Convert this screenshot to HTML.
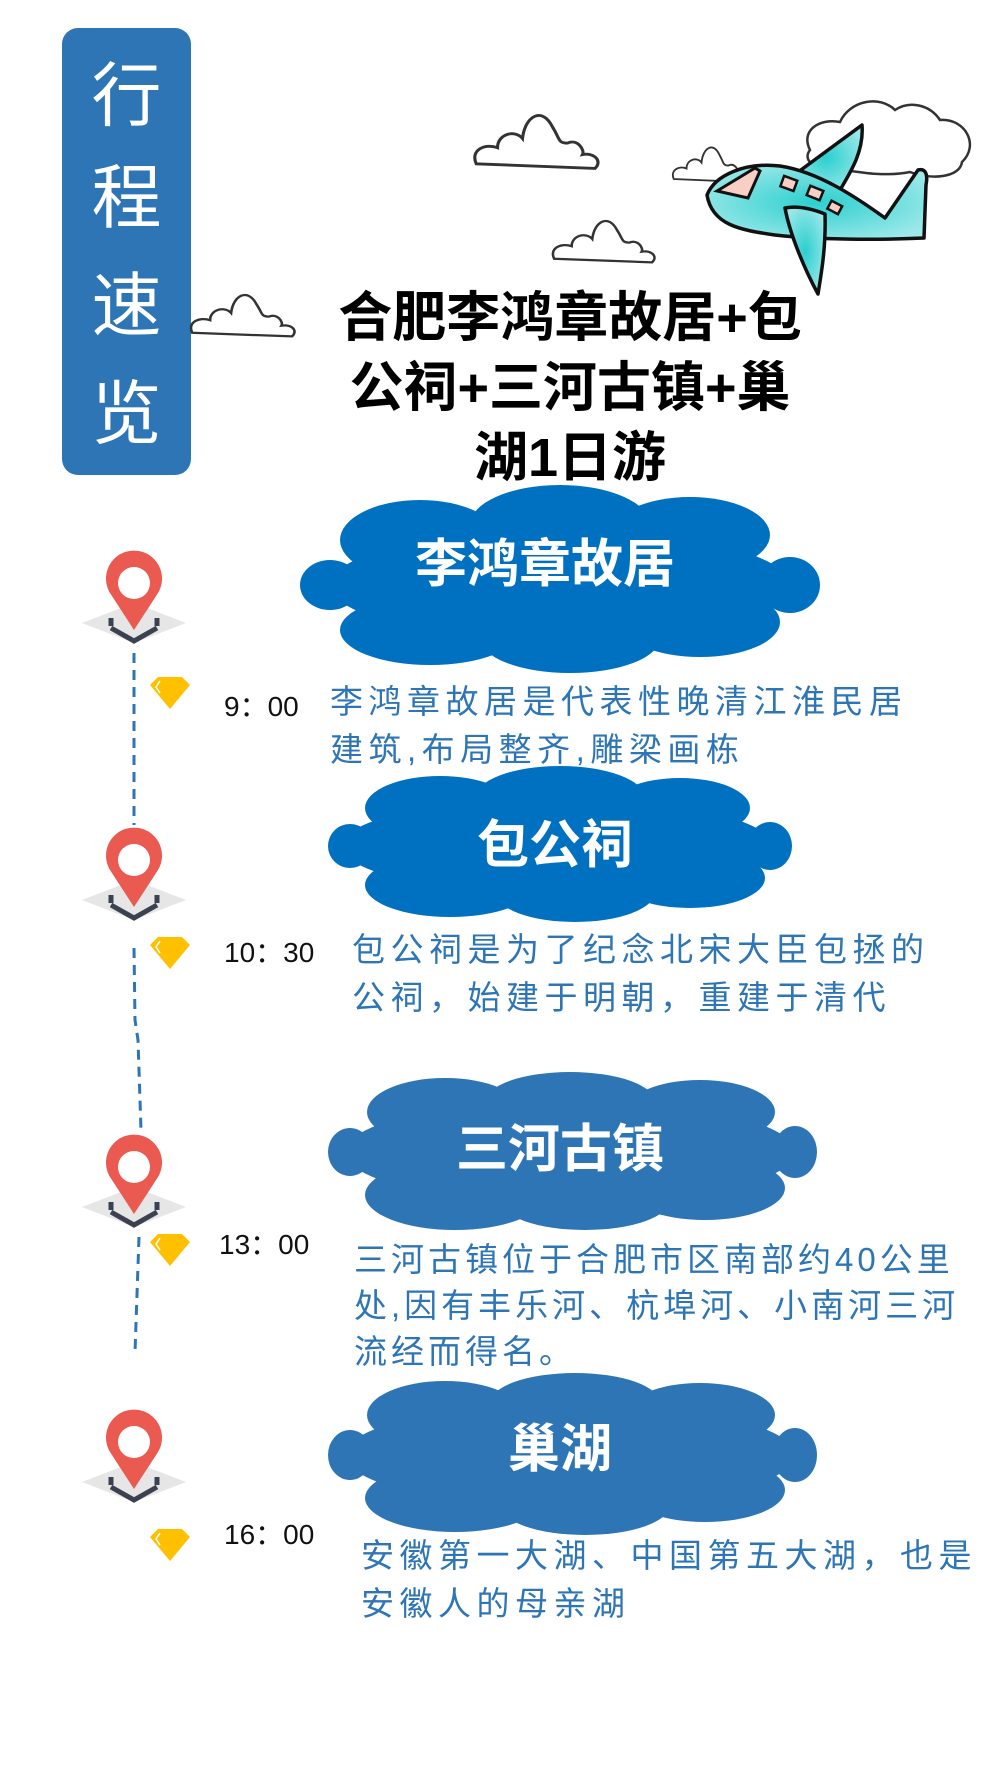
<!DOCTYPE html>
<html><head><meta charset="utf-8"><style>
html,body{margin:0;padding:0;background:#fff;}
body{width:1000px;height:1777px;position:relative;overflow:hidden;font-family:"Liberation Sans","Noto Sans CJK SC",sans-serif;}
.abs{position:absolute;}
.side{left:62px;top:28px;width:129px;height:447px;background:#2e75b6;border-radius:16px;}
.side div{position:absolute;left:0;width:129px;text-align:center;color:#fff;font-size:70px;line-height:80px;height:80px;font-family:"Noto Sans CJK SC",sans-serif;}
.title{left:300px;width:540px;text-align:center;font-size:54px;font-weight:bold;color:#000;line-height:70px;top:283px;font-family:"Liberation Sans","Noto Sans CJK SC",sans-serif;}
.lbl{color:#fff;font-size:52px;font-weight:bold;text-align:center;line-height:60px;}
.time{font-size:28px;color:#111;line-height:30px;}
.desc{color:#2e75b6;font-size:33px;line-height:48px;letter-spacing:5.5px;white-space:nowrap;font-family:"Liberation Sans","Noto Sans CJK SC",sans-serif;}
</style></head><body>
<div class="abs side">
<div style="top:23px">行</div><div style="top:125px">程</div><div style="top:233px">速</div><div style="top:341px">览</div>
</div>

<svg class="abs" style="left:0;top:0" width="1000" height="1777">
<defs>
<g id="oc" fill="#fff" stroke="#333" stroke-width="2.5">
<path d="M5,52 C0,40 12,34 22,38 C22,26 36,22 42,30 C44,10 58,2 66,20 C72,30 70,34 78,34 C86,30 92,40 90,44 C100,42 106,50 100,56 Z"/>
</g>
<radialGradient id="pg" cx="0.5" cy="0.5" r="0.6"><stop offset="0" stop-color="#2ccfcf"/><stop offset="1" stop-color="#9fe9e9"/></radialGradient>
</defs>
<use href="#oc" transform="translate(470,104) scale(1.25,1.15)"/>
<use href="#oc" transform="translate(549,212) scale(1.03,0.9)"/>
<use href="#oc" transform="translate(187,286) scale(1.05,0.9)"/>
<use href="#oc" transform="translate(670,140) scale(0.75,0.75)"/>
<path d="M810,150 C800,130 820,118 840,122 C850,100 880,95 895,110 C910,100 930,105 940,120 C965,118 980,145 962,162 C960,178 930,180 910,172 C880,178 850,170 830,168 C815,170 802,160 810,150 Z" fill="#fff" stroke="#333" stroke-width="2.5"/>
<g stroke="#111" stroke-width="3.5" stroke-linejoin="round" fill="url(#pg)">
<path d="M790,178 L862,125 C864,150 852,170 840,190 Z"/>
<path d="M707,195 C715,175 745,162 780,166 C820,172 860,200 885,218 L918,170 C926,168 928,175 926,185 L924,238 C880,240 820,240 775,235 C740,230 712,225 707,195 Z"/>
<path d="M785,208 C800,205 815,210 825,214 C826,245 822,270 818,294 C805,270 790,235 785,208 Z"/>
</g>
<path d="M717,191 L755,168 L760,171 L748,198 Z" fill="#f7cfc4" stroke="#111" stroke-width="3"/>
<g fill="#f7cfc4" stroke="#111" stroke-width="2.5">
<rect x="782" y="178" width="14" height="11" transform="rotate(20 789 183)"/>
<rect x="808" y="188" width="14" height="10" transform="rotate(22 815 193)"/>
<rect x="829" y="203" width="12" height="9" transform="rotate(28 835 207)"/>
</g>

<g fill="#0070c0">
<ellipse cx="560" cy="585" rx="230" ry="55"/><ellipse cx="330" cy="585" rx="30" ry="25"/><ellipse cx="790" cy="585" rx="30" ry="28"/>
<ellipse cx="420" cy="540" rx="80" ry="40"/><ellipse cx="560" cy="525" rx="90" ry="40"/><ellipse cx="690" cy="535" rx="80" ry="38"/>
<ellipse cx="430" cy="630" rx="90" ry="35"/><ellipse cx="570" cy="638" rx="90" ry="35"/><ellipse cx="700" cy="622" rx="80" ry="35"/>
</g>
<g fill="#0070c0">
<ellipse cx="557" cy="846" rx="215" ry="48"/><ellipse cx="350" cy="846" rx="22" ry="22"/><ellipse cx="770" cy="846" rx="22" ry="24"/>
<ellipse cx="440" cy="808" rx="75" ry="32"/><ellipse cx="560" cy="798" rx="85" ry="32"/><ellipse cx="680" cy="808" rx="70" ry="30"/>
<ellipse cx="450" cy="885" rx="85" ry="32"/><ellipse cx="575" cy="892" rx="80" ry="30"/><ellipse cx="690" cy="878" rx="75" ry="30"/>
</g>
<g fill="#2e75b6">
<ellipse cx="570" cy="1152" rx="225" ry="52"/><ellipse cx="350" cy="1152" rx="22" ry="24"/><ellipse cx="795" cy="1152" rx="22" ry="26"/>
<ellipse cx="445" cy="1112" rx="78" ry="34"/><ellipse cx="570" cy="1102" rx="85" ry="30"/><ellipse cx="700" cy="1112" rx="75" ry="32"/>
<ellipse cx="455" cy="1195" rx="90" ry="35"/><ellipse cx="585" cy="1200" rx="85" ry="30"/><ellipse cx="705" cy="1188" rx="80" ry="32"/>
</g>
<g fill="#2e75b6">
<ellipse cx="570" cy="1455" rx="225" ry="52"/><ellipse cx="350" cy="1455" rx="22" ry="25"/><ellipse cx="795" cy="1455" rx="22" ry="27"/>
<ellipse cx="445" cy="1415" rx="78" ry="34"/><ellipse cx="575" cy="1403" rx="85" ry="30"/><ellipse cx="700" cy="1415" rx="75" ry="32"/>
<ellipse cx="455" cy="1498" rx="90" ry="34"/><ellipse cx="585" cy="1505" rx="85" ry="30"/><ellipse cx="705" cy="1490" rx="80" ry="32"/>
</g>

<g stroke="#2e75b6" stroke-width="3" stroke-dasharray="10,7" fill="none">
<line x1="134" y1="653" x2="134" y2="825"/>
<path d="M134,948 L135,1020 L138,1040 L141,1130"/>
<line x1="139" y1="1237" x2="135" y2="1352"/>
</g>
</svg>

<svg class="abs" style="left:0;top:0" width="1000" height="1777">
<defs>
<g id="pin">
<path d="M-52,0 L0,-20 L52,0 L0,20 Z" fill="#e6e6e6"/>
<path d="M-23,3 L-23,-5 M-23,5 L0,18 L23,5 M23,3 L23,-5" fill="none" stroke="#3b4150" stroke-width="5"/>
<path d="M0,7 L-24,-30 A28,28 0 1 1 24,-30 Z" fill="#ea5a50"/>
<circle cx="0" cy="-40" r="16" fill="#fff"/>
</g>
<g id="gem">
<path d="M-20,-8 L-12,-16 L12,-16 L20,-8 L0,16 Z" fill="#ffc000"/>
<path d="M-10,-12 L-14,-6 L-10,0" fill="none" stroke="#fff" stroke-width="1.5"/>
</g>
</defs>
<use href="#pin" transform="translate(134,623)"/>
<use href="#pin" transform="translate(134,900)"/>
<use href="#pin" transform="translate(134,1207)"/>
<use href="#pin" transform="translate(134,1482)"/>
<use href="#gem" transform="translate(170,693)"/>
<use href="#gem" transform="translate(170,953)"/>
<use href="#gem" transform="translate(170,1250)"/>
<use href="#gem" transform="translate(170,1545)"/>
</svg>

<div class="abs title">合肥李鸿章故居+包<br>公祠+三河古镇+巢<br>湖1日游</div>

<div class="abs lbl" style="left:330px;width:430px;top:535px">李鸿章故居</div>
<div class="abs lbl" style="left:340px;width:430px;top:816px">包公祠</div>
<div class="abs lbl" style="left:345px;width:430px;top:1120px">三河古镇</div>
<div class="abs lbl" style="left:345px;width:430px;top:1420px">巢湖</div>

<div class="abs time" style="left:224px;top:692px">9：00</div>
<div class="abs time" style="left:224px;top:938px">10：30</div>
<div class="abs time" style="left:219px;top:1230px">13：00</div>
<div class="abs time" style="left:224px;top:1520px">16：00</div>

<div class="abs desc" style="left:330px;top:678px">李鸿章故居是代表性晚清江淮民居<br>建筑,布局整齐,雕梁画栋</div>
<div class="abs desc" style="left:352px;top:926px">包公祠是为了纪念北宋大臣包拯的<br>公祠，始建于明朝，重建于清代</div>
<div class="abs desc" style="left:354px;top:1237px;line-height:46px;letter-spacing:4px">三河古镇位于合肥市区南部约40公里<br>处,因有丰乐河、杭埠河、小南河三河<br>流经而得名。</div>
<div class="abs desc" style="left:361px;top:1532px">安徽第一大湖、中国第五大湖，也是<br>安徽人的母亲湖</div>
</body></html>
